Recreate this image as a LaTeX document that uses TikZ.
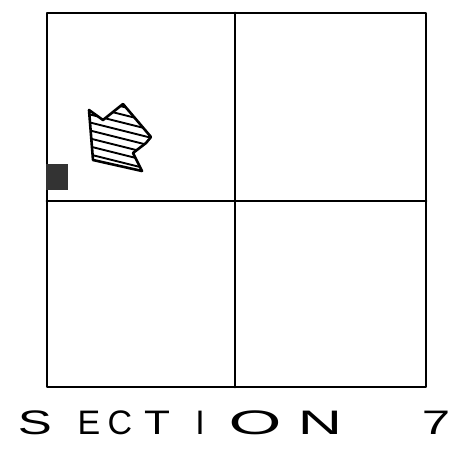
\documentclass[tikz,border=0pt]{standalone}
\usepackage{fontspec}
\setmainfont{Liberation Sans}
\begin{document}
\begin{tikzpicture}[x=1pt,y=-1pt,
  gridline/.style={line width=2.9pt,line cap=round,line join=round,black},
  letter/.style={font=\fontsize{34}{34}\selectfont,inner sep=0pt,anchor=base}]
\useasboundingbox (0,0) rectangle (466,451);
% grid
\coordinate (tl) at (47,13);
\coordinate (br) at (426,387);
\draw[gridline] (tl) rectangle (br);
\coordinate (mt) at (235,13);
\coordinate (mb) at (235,387);
\coordinate (ml) at (47,201);
\coordinate (mr) at (426,201);
\draw[gridline] (mt) -- (mb);
\draw[gridline] (ml) -- (mr);
% dark square
\fill[black!80] (46,164) rectangle (68,190);
% hatched arrow
\coordinate (p1) at (89,110);
\coordinate (p2) at (103,120);
\coordinate (p3) at (123,104);
\coordinate (p4) at (151,137);
\coordinate (p5) at (146,143);
\coordinate (p6) at (133,153);
\coordinate (p7) at (142,171);
\coordinate (p8) at (93,160);
\begin{scope}
\clip (p1)--(p2)--(p3)--(p4)--(p5)--(p6)--(p7)--(p8)--cycle;
\foreach \c in {96,104,...,176}{
  \draw[line width=1.9pt] (80,\c) -- (160,\c+20);
}
\end{scope}
\draw[line width=2.6pt,line join=round] (p1)--(p2)--(p3)--(p4)--(p5)--(p6)--(p7)--(p8)--cycle;
% label
\node[letter,xscale=1.5] (s) at (35,434) {S};
\node[letter] (e) at (89,434) {E};
\node[letter] (c) at (120,434) {C};
\node[letter,xscale=1.25] (t) at (157,434) {T};
\node[letter] (i) at (200,434) {I};
\node[letter,xscale=2.0] (o) at (255,434) {O};
\node[letter,xscale=1.8] (n) at (320,434) {N};
\node[letter,xscale=1.5] (seven) at (436,434) {7};
\end{tikzpicture}
\end{document}
